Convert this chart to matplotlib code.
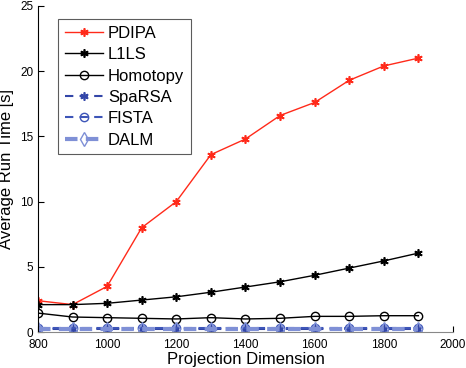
import matplotlib.pyplot as plt

plt.rcParams['font.family'] = ['Liberation Sans', 'DejaVu Sans']

# Data
dims = [800, 900, 1000, 1100, 1200, 1300, 1400, 1500, 1600, 1700, 1800, 1900]
pdipa = [2.4, 2.1, 3.5, 8.0, 10.0, 13.6, 14.8, 16.6, 17.6, 19.3, 20.4, 21.0]
l1ls = [2.1, 2.1, 2.2, 2.45, 2.7, 3.05, 3.45, 3.85, 4.35, 4.9, 5.45, 6.05]
homotopy = [1.45, 1.15, 1.1, 1.05, 1.0, 1.1, 1.0, 1.05, 1.2, 1.2, 1.25, 1.25]
sparsa = [0.25, 0.25, 0.25, 0.25, 0.25, 0.25, 0.25, 0.25, 0.25, 0.25, 0.25, 0.25]
fista = [0.3, 0.3, 0.3, 0.3, 0.3, 0.3, 0.3, 0.3, 0.3, 0.3, 0.3, 0.3]
dalm = [0.2, 0.2, 0.2, 0.2, 0.2, 0.2, 0.2, 0.2, 0.2, 0.2, 0.2, 0.2]

fig = plt.figure(figsize=(4.66, 3.68), dpi=100)
ax = fig.add_axes([0.0815, 0.0978, 0.8905, 0.886])

ax.plot(dims, pdipa, color='#ff2a1a', lw=1.0, marker=(6, 2, 0), ms=6, mew=1.2, label='PDIPA')
ax.plot(dims, l1ls, color='black', lw=1.0, marker=(6, 2, 0), ms=6, mew=1.2, label='L1LS')
ax.plot(dims, homotopy, color='black', lw=1.0, marker='o', ms=6, mfc='none', mew=1.0, label='Homotopy')
ax.plot(dims, sparsa, color='#3346a8', lw=1.5, ls=(0, (4, 3)), marker=(6, 2, 0), ms=6, mew=1.2, label='SpaRSA')
ax.plot(dims, fista, color='#3d55b8', lw=1.5, ls=(0, (4, 3)), marker='o', ms=6, mfc='none', mew=1.0, label='FISTA')
ax.plot(dims, dalm, color='#7f90d6', lw=3, ls=(0, (3, 2)), marker='d', ms=7, mfc='none', mew=1.0, label='DALM')

ax.set_xlim(800, 2000)
ax.set_ylim(0, 25)
ax.set_xticks(range(800, 2001, 200))
ax.set_yticks(range(0, 26, 5))
ax.tick_params(direction='in', labelsize=8.5, length=4)
ax.tick_params(axis='x', pad=5)
ax.spines['top'].set_visible(False)
ax.spines['right'].set_visible(False)
ax.spines['bottom'].set_color('#888888')

ax.set_xlabel('Projection Dimension', fontsize=12, labelpad=1)
ax.set_ylabel('Average Run Time [s]', fontsize=12, labelpad=4)

leg = ax.legend(loc='upper left', bbox_to_anchor=(0.028, 0.985), fontsize=12,
                frameon=True, fancybox=False, edgecolor='#333333',
                handlelength=2.3, labelspacing=0.38, borderpad=0.4, handletextpad=0.3)
leg.get_frame().set_linewidth(0.8)

fig.savefig('out.png', dpi=100)
